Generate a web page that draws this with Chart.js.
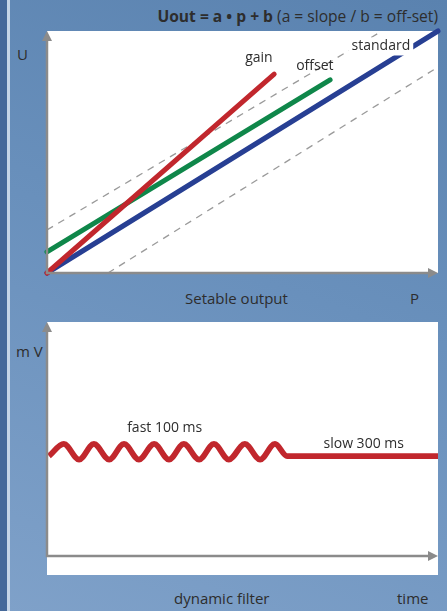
<!DOCTYPE html>
<html>
<head>
<meta charset="utf-8">
<script src="https://cdn.jsdelivr.net/npm/chart.js@4.4.1/dist/chart.umd.min.js"></script>
<style>
  body { margin: 0; }
  #wrap {
    position: relative; width: 447px; height: 611px; overflow: hidden;
    background: linear-gradient(200deg, #5a82af 0%, #6990bc 45%, #7fa1c9 100%);
    font-family: "Open Sans", "Noto Sans", sans-serif; color: #2d2d2d;
  }
  .strip { position: absolute; top: 0; bottom: 0; }
  .lbl { position: absolute; font-size: 15px; line-height: 18px; white-space: nowrap; }
  canvas { position: absolute; left: 0; }
</style>
</head>
<body>
<div id="wrap">
  <div class="strip" style="left:0;width:7px;background:#46699a"></div>
  <div class="strip" style="left:7px;width:3px;background:#c6d5e7"></div>

  <div class="lbl" style="right:9px;top:7px;font-size:15.6px"><b>Uout = a • p + b</b> (a = slope / b = off-set)</div>
  <div class="lbl" style="left:17px;top:45px">U</div>
  <div class="lbl" style="left:185px;top:289px">Setable output</div>
  <div class="lbl" style="left:410px;top:289px">P</div>
  <div class="lbl" style="left:16px;top:342px">m V</div>
  <div class="lbl" style="left:174px;top:589px">dynamic filter</div>
  <div class="lbl" style="left:397px;top:589px">time</div>

  <canvas id="topChart" width="447" height="290" style="top:0"></canvas>
  <canvas id="filterChart" width="447" height="311" style="top:300px"></canvas>
</div>

<script>
// top chart: U = a * p + b
const standardX = [0, 100];
const standardY = [0, 100];
const offsetX = [0, 72.4];
const offsetY = [8.7, 79.8];
const gainX = [0, 58.1];
const gainY = [0, 82.2];
const guideUpperX = [0, 85.7];
const guideUpperY = [17.8, 100];
const guideLowerX = [15.6, 100];
const guideLowerY = [0, 85.1];

// bottom chart: dynamic filter (fast ripple, then slow flat)
const filterX = [0.5, 4.3, 8.2, 12.0, 15.9, 19.7, 23.5, 27.4, 31.2, 35.0, 38.9,
  42.7, 46.5, 50.6, 54.5, 58.3, 61.4, 100];
const filterY = [42.7, 47.9, 41.2, 47.9, 41.2, 47.9, 41.2, 47.9, 41.2, 47.9, 41.2,
  47.9, 41.2, 47.9, 41.2, 47.9, 42.7, 42.7];

const zip = (xs, ys) => xs.map((x, i) => ({ x: x, y: ys[i] }));

const RED = "#c1272d";
const GREEN = "#0f874a";
const BLUE = "#273f93";
const AXIS = "#8b8b8b";

// white plot box, axes with arrows, in-plot labels
const diagramPlugin = {
  id: "diagram",
  beforeDatasetsDraw(chart, args, opts) {
    const { ctx, chartArea: a } = chart;
    ctx.save();
    ctx.fillStyle = "#ffffff";
    ctx.fillRect(a.left, a.top, a.right - a.left, a.bottom - a.top + (opts.extendBottom || 0));
    ctx.restore();
  },
  afterDatasetsDraw(chart, args, opts) {
    const { ctx, chartArea: a } = chart;
    const xs = chart.scales.x, ys = chart.scales.y;
    ctx.save();
    // axes
    ctx.strokeStyle = AXIS;
    ctx.fillStyle = AXIS;
    ctx.lineWidth = 2.5;
    ctx.beginPath();
    ctx.moveTo(a.left, a.top + 9);
    ctx.lineTo(a.left, a.bottom);
    ctx.lineTo(a.right - 9, a.bottom);
    ctx.stroke();
    ctx.beginPath();
    ctx.moveTo(a.left, a.top);
    ctx.lineTo(a.left - 5, a.top + 10);
    ctx.lineTo(a.left + 5, a.top + 10);
    ctx.closePath();
    ctx.fill();
    ctx.beginPath();
    ctx.moveTo(a.right, a.bottom);
    ctx.lineTo(a.right - 10, a.bottom - 5);
    ctx.lineTo(a.right - 10, a.bottom + 5);
    ctx.closePath();
    ctx.fill();
    // labels
    ctx.font = "14px 'Open Sans', 'Noto Sans', sans-serif";
    ctx.textAlign = "center";
    ctx.textBaseline = "middle";
    (opts.labels || []).forEach((l) => {
      const px = xs.getPixelForValue(l.x);
      const py = ys.getPixelForValue(l.y);
      if (l.box) {
        const w = ctx.measureText(l.text).width;
        ctx.fillStyle = "#ffffff";
        ctx.fillRect(px - w / 2 - 3, py - 9, w + 6, 18);
      }
      ctx.fillStyle = "#2d2d2d";
      ctx.fillText(l.text, px, py);
    });
    ctx.restore();
  },
};

function lineSet(points, color, width, dash) {
  return {
    data: points,
    showLine: true,
    borderColor: color,
    borderWidth: width,
    borderDash: dash || [],
    borderCapStyle: dash ? "butt" : "round",
    borderJoinStyle: "round",
    pointRadius: 0,
    fill: false,
    clip: false,
  };
}

function baseOptions(padding, plotOpts) {
  return {
    responsive: false,
    animation: false,
    devicePixelRatio: 1,
    layout: { padding: padding },
    plugins: { legend: { display: false }, tooltip: { enabled: false }, diagram: plotOpts },
    scales: {
      x: { type: "linear", min: 0, max: 100, display: false },
      y: { type: "linear", min: 0, max: 100, display: false },
    },
  };
}

new Chart(document.getElementById("topChart"), {
  type: "scatter",
  data: {
    datasets: [
      lineSet(zip(gainX, gainY), RED, 5),
      lineSet(zip(offsetX, offsetY), GREEN, 5),
      lineSet(zip(standardX, standardY), BLUE, 5),
      lineSet(zip(guideUpperX, guideUpperY), "#9a9a9a", 1.3, [7, 6]),
      lineSet(zip(guideLowerX, guideLowerY), "#9a9a9a", 1.3, [7, 6]),
    ],
  },
  options: baseOptions({ left: 47, right: 9, top: 31, bottom: 17 }, {
    labels: [
      { text: "gain", x: 54.2, y: 88.8 },
      { text: "offset", x: 68.5, y: 85.5 },
      { text: "standard", x: 85.4, y: 93.6, box: true },
    ],
  }),
  plugins: [diagramPlugin],
});

const filterSet = lineSet(zip(filterX, filterY), RED, 5.8);
filterSet.cubicInterpolationMode = "monotone";
filterSet.borderCapStyle = "butt";

new Chart(document.getElementById("filterChart"), {
  type: "scatter",
  data: { datasets: [filterSet] },
  options: baseOptions({ left: 47, right: 9, top: 22, bottom: 55 }, {
    extendBottom: 19,
    labels: [
      { text: "fast 100 ms", x: 30.1, y: 54.9 },
      { text: "slow 300 ms", x: 81.0, y: 47.9 },
    ],
  }),
  plugins: [diagramPlugin],
});
</script>
</body>
</html>
